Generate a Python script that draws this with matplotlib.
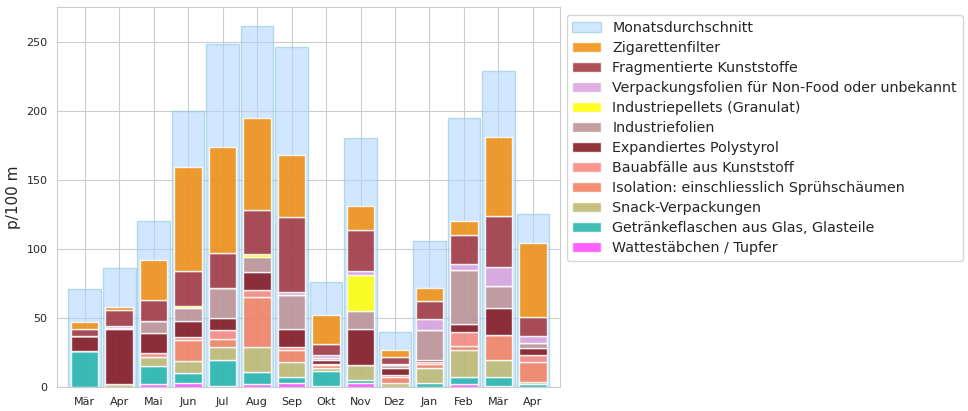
import matplotlib
matplotlib.use('Agg')
import matplotlib.pyplot as plt
import seaborn as sns
import numpy as np

months = ['Mär', 'Apr', 'Mai', 'Jun', 'Jul', 'Aug', 'Sep', 'Okt', 'Nov', 'Dez', 'Jan', 'Feb', 'Mär', 'Apr']
avg = [71, 86, 120, 200, 248, 261, 246, 76, 180, 40, 106, 195, 229, 125]

# bottom to top
watte      = [0, 0, 2, 3, 1, 2, 3, 1, 3, 0, 0, 2, 1, 0]
getraenke  = [26, 0, 13, 7, 19, 9, 4, 11, 2, 0, 3, 5, 6, 2]
snack      = [0, 2, 7, 9, 9, 18, 11, 2, 11, 3, 11, 20, 13, 2]
isolation  = [0, 0, 0, 15, 6, 36, 9, 2, 0, 4, 3, 3, 18, 14]
bau        = [0, 0, 3, 2, 6, 5, 2, 1, 0, 2, 1, 10, 0, 5]
eps        = [11, 40, 14, 12, 9, 13, 13, 3, 26, 5, 2, 6, 19, 5]
indfolien  = [0, 1, 9, 9, 22, 11, 25, 1, 13, 2, 21, 39, 16, 4]
pellets    = [0, 0, 0, 2, 0, 2, 0, 0, 26, 0, 0, 0, 0, 0]
verpfolien = [0, 1, 0, 0, 0, 0, 2, 2, 3, 1, 8, 4, 14, 5]
fragment   = [5, 12, 15, 25, 25, 32, 54, 8, 30, 5, 13, 21, 37, 14]
zigaretten = [5, 2, 29, 75, 77, 67, 45, 21, 17, 5, 10, 10, 57, 53]

series = [
    ('Wattestäbchen / Tupfer', watte, '#ff44ff'),
    ('Getränkeflaschen aus Glas, Glasteile', getraenke, '#20b2aa'),
    ('Snack-Verpackungen', snack, '#bdb76b'),
    ('Isolation: einschliesslich Sprühschäumen', isolation, '#f47c5c'),
    ('Bauabfälle aus Kunststoff', bau, '#f88479'),
    ('Expandiertes Polystyrol', eps, '#7f0e16'),
    ('Industriefolien', indfolien, '#bc8f8f'),
    ('Industriepellets (Granulat)', pellets, '#ffff00'),
    ('Verpackungsfolien für Non-Food oder unbekannt', verpfolien, '#daa0dd'),
    ('Fragmentierte Kunststoffe', fragment, '#a0303a'),
    ('Zigarettenfilter', zigaretten, '#f28c0c'),
]

sns.set_style('whitegrid')
fig = plt.figure(figsize=(9.68, 4.11), dpi=100)
ax = fig.add_axes([0.059, 0.058, 0.52, 0.925])
x = np.arange(len(months))
h = ax.bar(x, avg, width=0.95, color='#b3d7ff', alpha=0.6, edgecolor='#8ec8dc', linewidth=1)
bottom = np.zeros(len(months))
bars = []
for name, vals, col in series:
    b = ax.bar(x, vals, bottom=bottom, width=0.8, color=col, alpha=0.85, edgecolor='white',
               linewidth=1)
    bars.append(b)
    bottom += np.array(vals)

ax.set_xticks(x)
ax.set_xticklabels(months, fontsize=8)
ax.tick_params(axis='y', labelsize=8)
ax.set_xlim(-0.8, 13.8)
ax.set_ylim(0, 275)
ax.set_ylabel('p/100 m', fontsize=11)
ax.legend([h] + bars[::-1], ['Monatsdurchschnitt'] + [s[0] for s in series][::-1],
          loc='upper left', bbox_to_anchor=(1.012, 0.978), fontsize=10.3, frameon=True,
          borderaxespad=0, labelspacing=0.42)
fig.savefig('out.png', dpi=100)
